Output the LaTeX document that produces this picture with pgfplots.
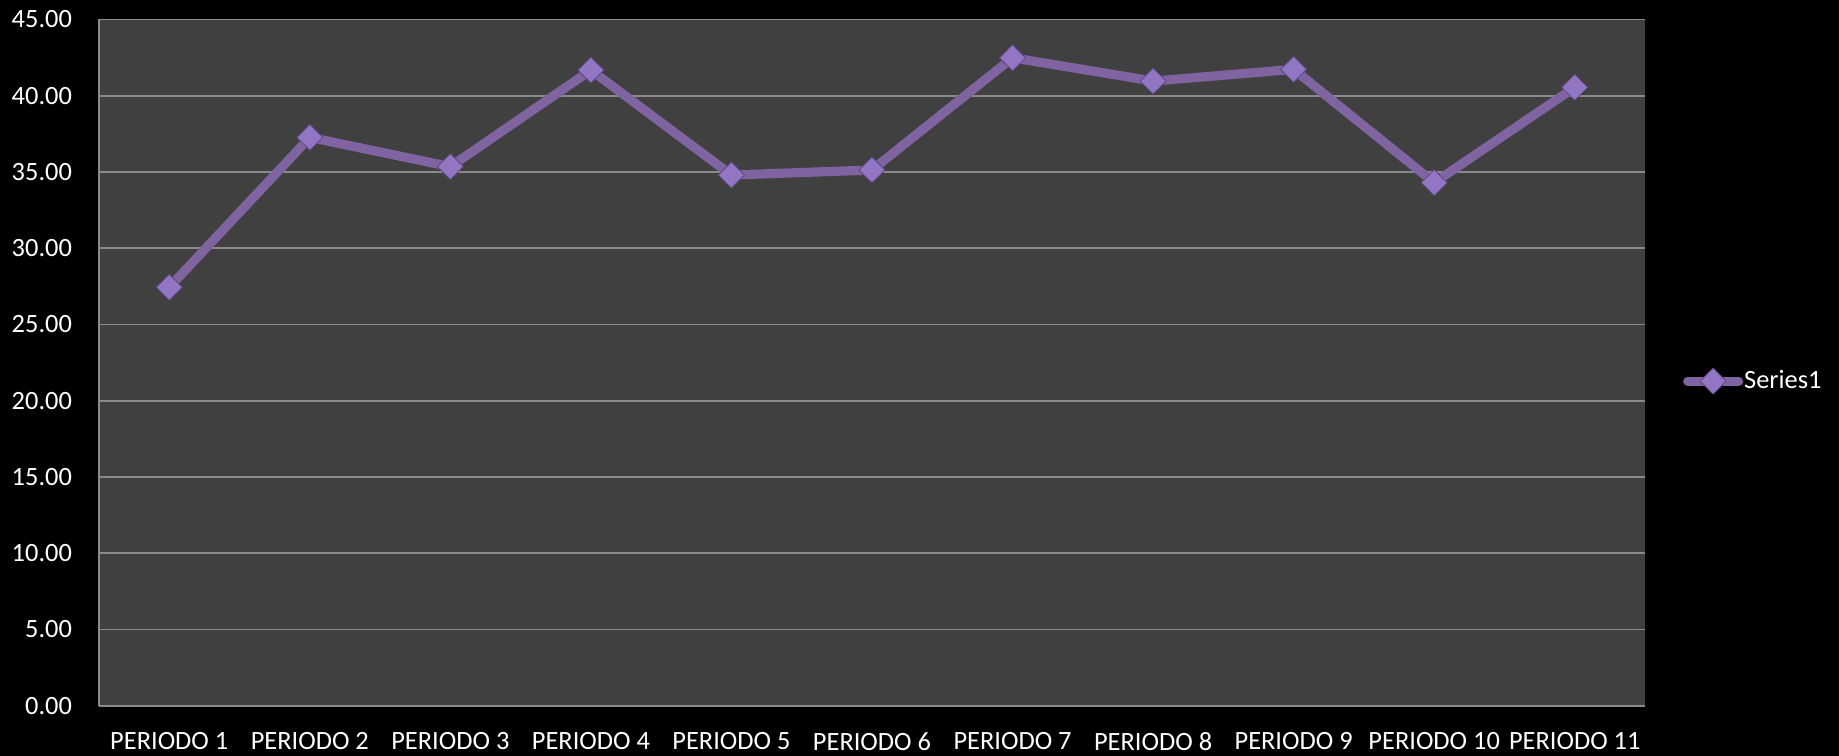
\documentclass[border=0pt]{standalone}
\usepackage{pgfplots}
\pgfplotsset{compat=1.18}
\usepackage{fontspec}
\setmainfont{Carlito}
\definecolor{plotbg}{HTML}{404040}
\definecolor{gridgray}{HTML}{8A8A8A}
\definecolor{serieslilac}{HTML}{8064A2}
\definecolor{markfill}{HTML}{9276C4}
\definecolor{markedge}{HTML}{5E4880}
\begin{document}
\begin{tikzpicture}
% page background and fixed page size
\useasboundingbox (0pt,0pt) rectangle (919.5pt,377.5pt);
\fill[black] (-3pt,-3pt) rectangle (922.5pt,380.5pt);
\begin{axis}[
  at={(49.5pt,24.65pt)}, anchor=south west,
  scale only axis, width=773pt, height=343.1pt,
  xmin=-0.5, xmax=10.5, ymin=0, ymax=45,
  xtick={0,...,10},
  xticklabels={PERIODO 1,PERIODO 2,PERIODO 3,PERIODO 4,PERIODO 5,PERIODO 6,PERIODO 7,PERIODO 8,PERIODO 9,PERIODO 10,PERIODO 11},
  ytick={0,5,...,45},
  major tick length=0pt,
  axis background/.style={fill=plotbg},
  axis lines*=left,
  axis line style={draw=gridgray, line width=0.8pt, -},
  ymajorgrids, grid style={draw=gridgray, line width=0.8pt},
  tick label style={font=\fontsize{13.2}{15}\selectfont, text=white},
  /pgf/number format/assume math mode=true,
  yticklabel style={/pgf/number format/fixed, /pgf/number format/fixed zerofill,
    /pgf/number format/precision=2, xshift=-10pt},
  xticklabel style={yshift=-10pt},
  legend style={at={(1.0244,0.473)}, anchor=west, draw=none, fill=none,
    inner sep=0pt, font=\fontsize{13.2}{15}\selectfont, text=white,
    nodes={inner sep=0.5pt}},
  legend image code/.code={
    \draw[#1, line cap=round, mark repeat=2, mark phase=2]
      plot coordinates {(2.3pt,0pt) (15pt,0pt) (27.7pt,0pt)};
  },
]
\addplot[color=serieslilac, line width=4.6pt, line join=round,
  mark=square*, mark size=4.6pt,
  mark options={rotate=45, fill=markfill, draw=markedge, line width=0.4pt}]
  coordinates {
  (0,27.44) (1,37.27) (2,35.35) (3,41.68) (4,34.80) (5,35.13)
  (6,42.49) (7,40.96) (8,41.73) (9,34.30) (10,40.55)
};
\addlegendentry{Series1}
\end{axis}
\end{tikzpicture}
\end{document}
